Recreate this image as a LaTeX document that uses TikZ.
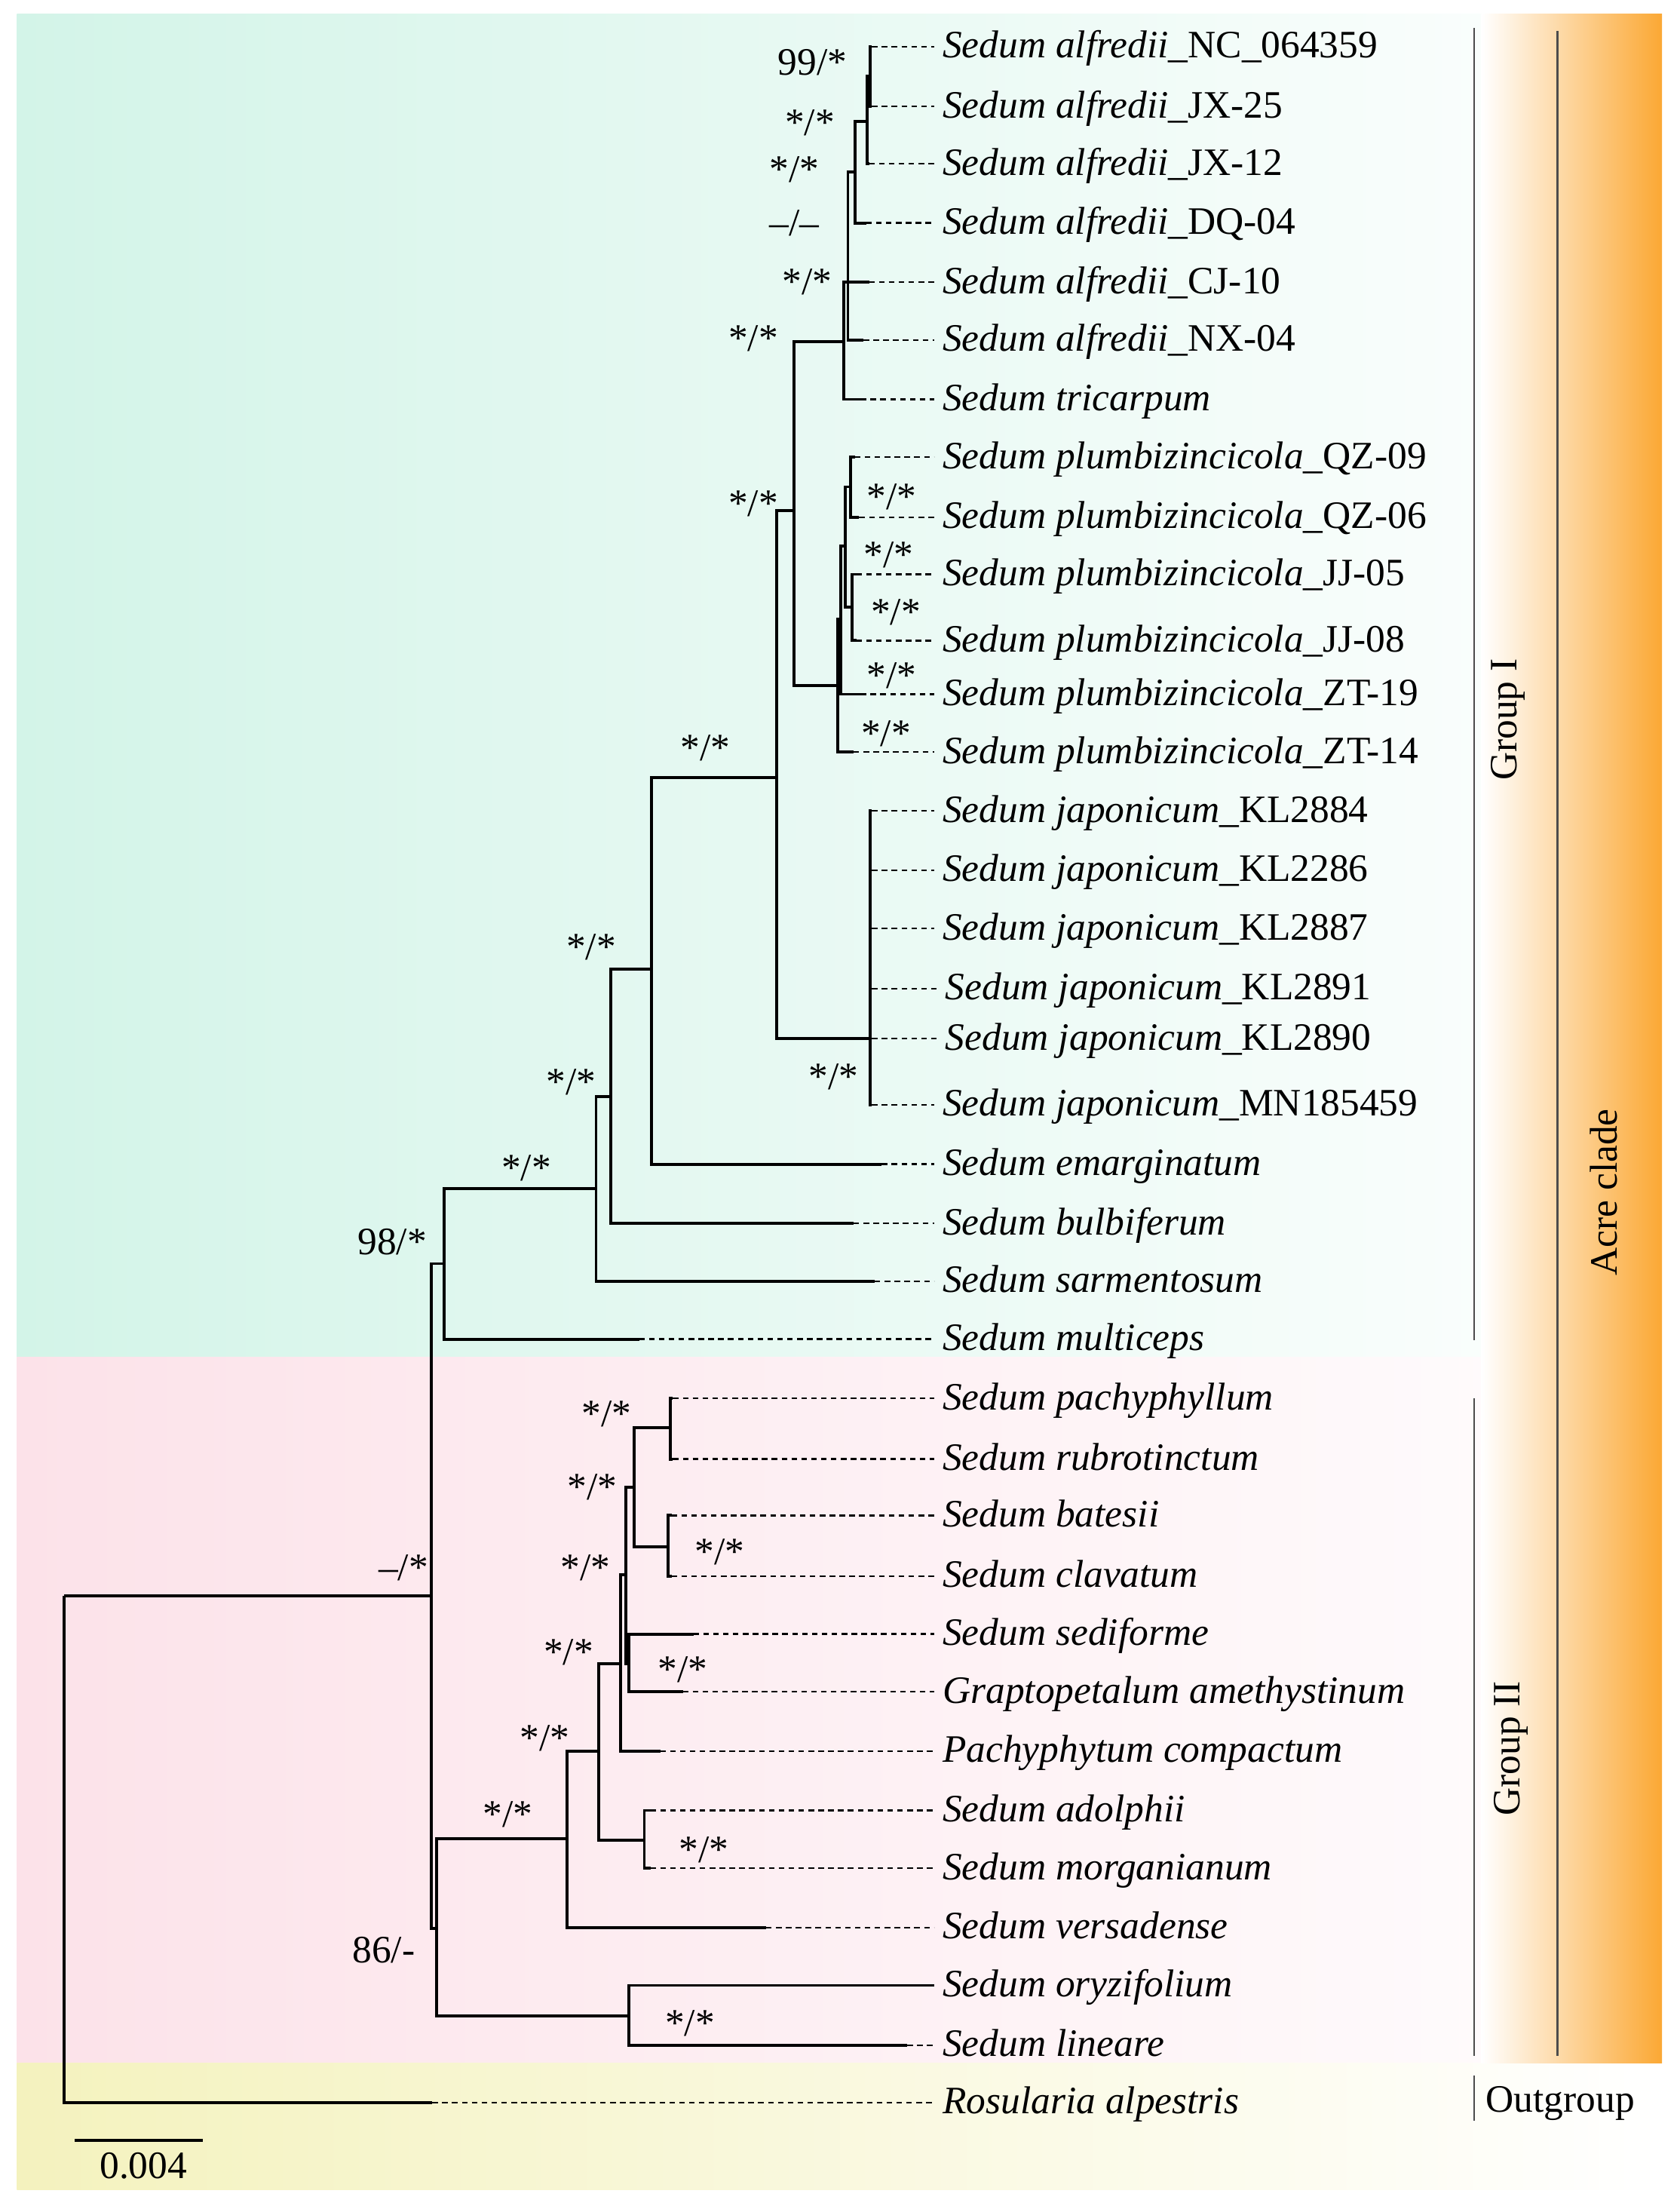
\documentclass[tikz,border=0pt]{standalone}
\usepackage{fontspec}
\setmainfont{Liberation Serif}
\definecolor{mint}{HTML}{D3F4E8}
\definecolor{blush}{HTML}{FCE2E9}
\definecolor{straw}{HTML}{F4F2BE}
\definecolor{amber}{HTML}{FBA834}
\begin{document}
\begin{tikzpicture}[x=1pt,y=-1pt,
branch/.style={line width=2.1pt},
lead/.style={line width=1.2pt,dash pattern=on 4pt off 3pt},
lbl/.style={anchor=base west,inner xsep=6pt,inner ysep=0pt,font=\fontsize{27.5}{33}\selectfont},
bsup/.style={inner sep=0pt,font=\fontsize{27.5}{33}\selectfont},
grp/.style={line width=1.4pt,black!70},
grplbl/.style={inner sep=0pt,font=\fontsize{27.5}{33}\selectfont}]
\useasboundingbox(0,0)rectangle(1190.3,1565.5);
\fill[white](0,0)rectangle(1190.3,1565.5);
\shade[left color=mint,right color=mint!12](12,10)rectangle(1055,962);
\shade[left color=blush,right color=blush!15](12,962)rectangle(1055,1462);
\shade[left color=straw,right color=white](12,1462)rectangle(1178,1552);
\shade[left color=white,right color=amber](1050,10)rectangle(1178,1462);
\coordinate(root)at(45.3,1131);
\coordinate(acre)at(305.5,1131);
\coordinate(grpI)at(315,895.5);
\coordinate(grpII)at(309.7,1366.5);
\coordinate(h1)at(422.5,842.5);
\coordinate(h2)at(433,777);
\coordinate(h3)at(462,687);
\coordinate(h4)at(550.5,551);
\coordinate(h5)at(563,362);
\coordinate(jap)at(617,736);
\coordinate(alf)at(598,242);
\coordinate(alfd)at(601,200);
\coordinate(alfc)at(606,122);
\coordinate(alfb)at(614.5,86);
\coordinate(alfa)at(617,54);
\coordinate(plu5)at(594,486);
\coordinate(plu4)at(596,439);
\coordinate(plu2)at(599,387);
\coordinate(plu1)at(603,345);
\coordinate(plu3)at(604,430.5);
\coordinate(k9)at(401.7,1303);
\coordinate(k11)at(445.7,1428.7);
\coordinate(k7)at(424.5,1241);
\coordinate(k8)at(456.7,1304);
\coordinate(k6)at(440,1179);
\coordinate(k5)at(443.7,1116);
\coordinate(k4)at(446,1179);
\coordinate(k2)at(449.5,1054);
\coordinate(k1)at(475,1012);
\coordinate(k3)at(473.4,1096);
\coordinate(e1)at(618,33);\coordinate(e2)at(618,75.5);\coordinate(e3)at(616,116);
\coordinate(e4)at(614,158);\coordinate(e5)at(616,200);\coordinate(e6)at(612,241);
\coordinate(e7)at(610,283);\coordinate(e8)at(606,324);\coordinate(e9)at(609,366.5);
\coordinate(e10)at(607,407);\coordinate(e11)at(607,454);\coordinate(e12)at(610,492);
\coordinate(e13)at(605,533);\coordinate(e14)at(618,574.6);\coordinate(e15)at(618,616.6);
\coordinate(e16)at(618,658);\coordinate(e17)at(618,700.6);\coordinate(e18)at(618,736);
\coordinate(e19)at(618,783);\coordinate(e20)at(625,825);\coordinate(e21)at(605,867);
\coordinate(e22)at(620,908);\coordinate(e23)at(453,949);\coordinate(e24)at(477,991);
\coordinate(e25)at(477,1034);\coordinate(e26)at(476,1074);\coordinate(e27)at(476,1117);
\coordinate(e28)at(491.5,1158);\coordinate(e29)at(484,1199);\coordinate(e30)at(468,1241);
\coordinate(e31)at(461,1283);\coordinate(e32)at(461,1324);\coordinate(e33)at(543,1366);
\coordinate(e34)at(661,1407);\coordinate(e35)at(643,1449.5);\coordinate(e36)at(306.4,1490);
\draw[branch](root)|-(acre)(root)|-(e36);
\draw[branch](acre)|-(grpI)(acre)|-(grpII);
\draw[branch](grpI)|-(h1)(grpI)|-(e23);
\draw[branch](h1)|-(h2)(h1)|-(e22);
\draw[branch](h2)|-(h3)(h2)|-(e21);
\draw[branch](h3)|-(h4)(h3)|-(e20);
\draw[branch](h4)|-(h5)(h4)|-(jap);
\draw[branch](jap)|-(e14)(jap)|-(e15)(jap)|-(e16)(jap)|-(e17)(jap)|-(e18)(jap)|-(e19);
\draw[branch](h5)|-(alf)(h5)|-(plu5);
\draw[branch](alf)|-(alfd)(alf)|-(e7);
\draw[branch](alfd)|-(alfc)(alfd)|-(e5)(alfd)|-(e6);
\draw[branch](alfc)|-(alfb)(alfc)|-(e4);
\draw[branch](alfb)|-(alfa)(alfb)|-(e3);
\draw[branch](alfa)|-(e1)(alfa)|-(e2);
\draw[branch](plu5)|-(plu4)(plu5)|-(e13);
\draw[branch](plu4)|-(plu2)(plu4)|-(e12);
\draw[branch](plu2)|-(plu1)(plu2)|-(plu3);
\draw[branch](plu1)|-(e8)(plu1)|-(e9);
\draw[branch](plu3)|-(e10)(plu3)|-(e11);
\draw[branch](grpII)|-(k9)(grpII)|-(k11);
\draw[branch](k11)|-(e34)(k11)|-(e35);
\draw[branch](k9)|-(k7)(k9)|-(e33);
\draw[branch](k7)|-(k6)(k7)|-(k8);
\draw[branch](k8)|-(e31)(k8)|-(e32);
\draw[branch](k6)|-(k5)(k6)|-(e30);
\draw[branch](k5)|-(k2)(k5)|-(k4);
\draw[branch](k4)|-(e28)(k4)|-(e29);
\draw[branch](k2)|-(k1)(k2)|-(k3);
\draw[branch](k1)|-(e24)(k1)|-(e25);
\draw[branch](k3)|-(e26)(k3)|-(e27);
\node[lbl](l1)at(662,41){\textit{Sedum alfredii}\_NC\_064359};\draw[lead](e1)--(e1-|l1.west);
\node[lbl](l2)at(662,83.5){\textit{Sedum alfredii}\_JX-25};\draw[lead](e2)--(e2-|l2.west);
\node[lbl](l3)at(662,124){\textit{Sedum alfredii}\_JX-12};\draw[lead](e3)--(e3-|l3.west);
\node[lbl](l4)at(662,166){\textit{Sedum alfredii}\_DQ-04};\draw[lead](e4)--(e4-|l4.west);
\node[lbl](l5)at(662,208){\textit{Sedum alfredii}\_CJ-10};\draw[lead](e5)--(e5-|l5.west);
\node[lbl](l6)at(662,249){\textit{Sedum alfredii}\_NX-04};\draw[lead](e6)--(e6-|l6.west);
\node[lbl](l7)at(662,291){\textit{Sedum tricarpum}};\draw[lead](e7)--(e7-|l7.west);
\node[lbl](l8)at(662,332){\textit{Sedum plumbizincicola}\_QZ-09};\draw[lead](e8)--(e8-|l8.west);
\node[lbl](l9)at(662,374.5){\textit{Sedum plumbizincicola}\_QZ-06};\draw[lead](e9)--(e9-|l9.west);
\node[lbl](l10)at(662,415){\textit{Sedum plumbizincicola}\_JJ-05};\draw[lead](e10)--(e10-|l10.west);
\node[lbl](l11)at(662,462){\textit{Sedum plumbizincicola}\_JJ-08};\draw[lead](e11)--(e11-|l11.west);
\node[lbl](l12)at(662,500){\textit{Sedum plumbizincicola}\_ZT-19};\draw[lead](e12)--(e12-|l12.west);
\node[lbl](l13)at(662,541){\textit{Sedum plumbizincicola}\_ZT-14};\draw[lead](e13)--(e13-|l13.west);
\node[lbl](l14)at(662,582.6){\textit{Sedum japonicum}\_KL2884};\draw[lead](e14)--(e14-|l14.west);
\node[lbl](l15)at(662,624.6){\textit{Sedum japonicum}\_KL2286};\draw[lead](e15)--(e15-|l15.west);
\node[lbl](l16)at(662,666){\textit{Sedum japonicum}\_KL2887};\draw[lead](e16)--(e16-|l16.west);
\node[lbl](l17)at(664,708.6){\textit{Sedum japonicum}\_KL2891};\draw[lead](e17)--(e17-|l17.west);
\node[lbl](l18)at(664,744){\textit{Sedum japonicum}\_KL2890};\draw[lead](e18)--(e18-|l18.west);
\node[lbl](l19)at(662,791){\textit{Sedum japonicum}\_MN185459};\draw[lead](e19)--(e19-|l19.west);
\node[lbl](l20)at(662,833){\textit{Sedum emarginatum}};\draw[lead](e20)--(e20-|l20.west);
\node[lbl](l21)at(662,875){\textit{Sedum bulbiferum}};\draw[lead](e21)--(e21-|l21.west);
\node[lbl](l22)at(662,916){\textit{Sedum sarmentosum}};\draw[lead](e22)--(e22-|l22.west);
\node[lbl](l23)at(662,957){\textit{Sedum multiceps}};\draw[lead](e23)--(e23-|l23.west);
\node[lbl](l24)at(662,999){\textit{Sedum pachyphyllum}};\draw[lead](e24)--(e24-|l24.west);
\node[lbl](l25)at(662,1042){\textit{Sedum rubrotinctum}};\draw[lead](e25)--(e25-|l25.west);
\node[lbl](l26)at(662,1082){\textit{Sedum batesii}};\draw[lead](e26)--(e26-|l26.west);
\node[lbl](l27)at(662,1125){\textit{Sedum clavatum}};\draw[lead](e27)--(e27-|l27.west);
\node[lbl](l28)at(662,1166){\textit{Sedum sediforme}};\draw[lead](e28)--(e28-|l28.west);
\node[lbl](l29)at(662,1207){\textit{Graptopetalum amethystinum}};\draw[lead](e29)--(e29-|l29.west);
\node[lbl](l30)at(662,1249){\textit{Pachyphytum compactum}};\draw[lead](e30)--(e30-|l30.west);
\node[lbl](l31)at(662,1291){\textit{Sedum adolphii}};\draw[lead](e31)--(e31-|l31.west);
\node[lbl](l32)at(662,1332){\textit{Sedum morganianum}};\draw[lead](e32)--(e32-|l32.west);
\node[lbl](l33)at(662,1374){\textit{Sedum versadense}};\draw[lead](e33)--(e33-|l33.west);
\node[lbl](l34)at(662,1415){\textit{Sedum oryzifolium}};\draw[branch](e34)--(e34-|l34.west);
\node[lbl](l35)at(662,1457.5){\textit{Sedum lineare}};\draw[lead](e35)--(e35-|l35.west);
\node[lbl](l36)at(662,1498){\textit{Rosularia alpestris}};\draw[lead](e36)--(e36-|l36.west);
\node[bsup](s1)at(576,44){99/*};
\node[bsup](s2)at(574,87){*/*};
\node[bsup](s3)at(563,120){*/*};
\node[bsup](s4)at(563,158){--/--};
\node[bsup](s5)at(572,200){*/*};
\node[bsup](s6)at(534,240){*/*};
\node[bsup](s7)at(534,357){*/*};
\node[bsup](s8)at(632,352){*/*};
\node[bsup](s9)at(630,393){*/*};
\node[bsup](s10)at(635,434){*/*};
\node[bsup](s11)at(632,479){*/*};
\node[bsup](s12)at(628,520){*/*};
\node[bsup](s13)at(500,530){*/*};
\node[bsup](s14)at(591,763){*/*};
\node[bsup](s15)at(419,671){*/*};
\node[bsup](s16)at(405,767){*/*};
\node[bsup](s17)at(373,828){*/*};
\node[bsup](s18)at(278,880){98/*};
\node[bsup](s19)at(286,1111){--/*};
\node[bsup](s20)at(430,1002){*/*};
\node[bsup](s21)at(420,1054){*/*};
\node[bsup](s22)at(510,1100){*/*};
\node[bsup](s23)at(415,1111){*/*};
\node[bsup](s24)at(484,1183){*/*};
\node[bsup](s25)at(403,1171){*/*};
\node[bsup](s26)at(386,1232){*/*};
\node[bsup](s27)at(360,1286){*/*};
\node[bsup](s28)at(499,1311){*/*};
\node[bsup](s29)at(272,1382){86/-};
\node[bsup](s30)at(489,1434){*/*};
\draw[grp](1045,20)--(1045,950);
\draw[grp](1045,991)--(1045,1457);
\draw[grp](1045,1471)--(1045,1503);
\draw[grp](1104,22)--(1104,1457);
\node[grplbl,rotate=90](gIlbl)at(1069,510){Group I};
\node[grplbl,rotate=90](gIIlbl)at(1071,1239){Group II};
\node[grplbl,rotate=90](acrelbl)at(1137,845){Acre clade};
\node[grplbl,anchor=base west](outlbl)at(1053,1497){Outgroup};
\coordinate(sbl)at(53,1517);\coordinate(sbr)at(144,1517);
\draw[branch](sbl)--(sbr);
\node[bsup](sblbl)at(101.7,1535){0.004};
\end{tikzpicture}
\end{document}
